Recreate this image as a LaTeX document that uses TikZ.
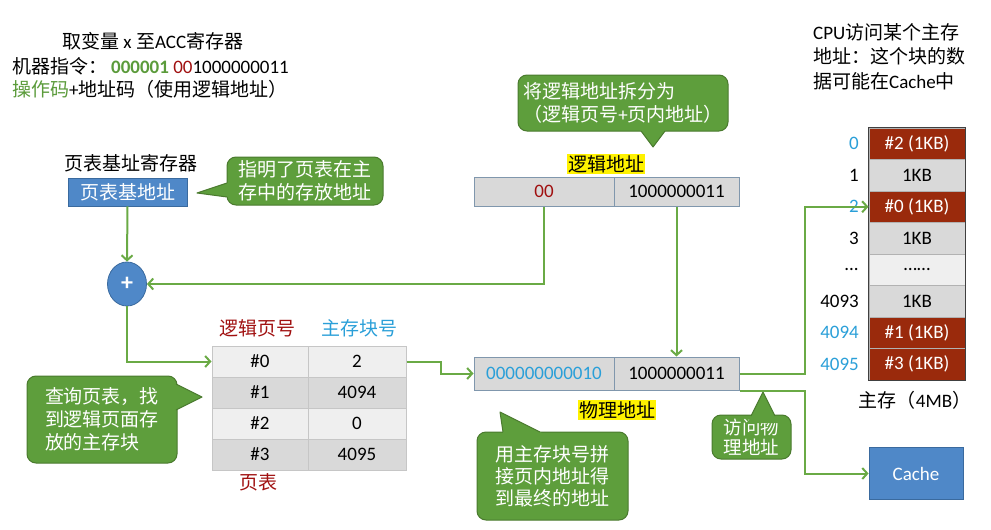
\documentclass[tikz,border=0pt]{standalone}
\usepackage{fontspec}
\setmainfont{Carlito}
\newfontfamily\zhfont{Noto Sans CJK SC}
\newfontfamily\latfont{Carlito}
\usetikzlibrary{arrows.meta,shapes.geometric,calc}
\makeatletter
\XeTeXinterchartokenstate=1
\newXeTeXintercharclass\zhclass
\def\setzhrange#1#2{\count@=#1\relax\loop\XeTeXcharclass\count@=\zhclass\ifnum\count@<#2\advance\count@ by 1\repeat}
\setzhrange{"3000}{"303F}
\setzhrange{"4E00}{"9FFF}
\setzhrange{"FF00}{"FFEF}
\XeTeXinterchartoks 0 \zhclass = {\zhfont}
\XeTeXinterchartoks 4095 \zhclass = {\zhfont}
\XeTeXinterchartoks \zhclass 0 = {\latfont}
\XeTeXinterchartoks \zhclass 4095 = {\latfont}
\makeatother
\definecolor{lgreen}{HTML}{6AAA45}
\definecolor{cfill}{HTML}{5E9E3C}
\definecolor{cborder}{HTML}{4A7A2E}
\definecolor{bbox}{HTML}{4F88C8}
\definecolor{bborder}{HTML}{3A6A9E}
\definecolor{dred}{HTML}{A01010}
\definecolor{tblue}{HTML}{2A9FD8}
\definecolor{mred}{HTML}{9A2A0C}
\definecolor{gcell}{HTML}{D9D9D9}
\definecolor{lcell}{HTML}{EFEFEF}
\definecolor{abord}{HTML}{8097AD}
\definecolor{tgreen}{HTML}{5B9B3B}
\newcommand\callptr[3]{%
  \fill[cfill] ($#1!1.3!#2$) -- #1 -- ($#1!1.3!#3$) -- cycle;
  \draw[cborder,line width=1pt,line join=round] #2 -- #1 -- #3;}
\tikzset{
  every node/.style={font=\fontsize{19}{23}\selectfont, inner sep=0pt},
  arr/.style={draw=lgreen, line width=2pt, -{Straight Barb[length=5pt,width=11pt]}},
  call/.style={fill=cfill, draw=cborder, line width=1pt, rounded corners=9pt, text=white, align=left},
  bluebox/.style={fill=bbox, draw=bborder, line width=0.8pt, text=white},
  abox/.style={fill=gcell, draw=abord, line width=1pt},
  cell/.style={draw=gray!45, line width=1pt, minimum height=31},
  mem/.style={draw=gray!60, line width=1pt, minimum width=96, minimum height=31.5},
  idx/.style={anchor=east},
  yhl/.style={fill=yellow, inner xsep=1pt, inner ysep=1pt}
}
\begin{document}
\begin{tikzpicture}[x=1pt,y=-1pt]
\useasboundingbox (0,0) rectangle (991,530);
% top-left text
\node[anchor=west] (t1) at (62,41) {取变量 x 至ACC寄存器};
\node[anchor=west] (t2) at (12,66) {机器指令：\hspace{4pt}{\color{tgreen}\bfseries 000001} {\color{dred}00}1000000011};
\node[anchor=west] (t3) at (12,89) {{\color{tgreen}操作码}+地址码（使用逻辑地址）};
% page table base register
\node[anchor=west] (baselbl) at (64,163) {页表基址寄存器};
\node[bluebox, minimum width=119, minimum height=28] (base) at (127.5,192) {页表基地址};
\node[call, minimum width=156, minimum height=48] (c1) at (305,181) {指明了页表在主\\存中的存放地址};
\callptr{(197,193)}{(227,183)}{(227,197)}
\node[ellipse, fill=bbox, draw=bborder, line width=0.8pt, minimum width=39, minimum height=44, text=white, font=\fontsize{24}{24}\selectfont\bfseries] (plus) at (127,284) {+};
% logical address
\node[yhl] (lalbl) at (606,164) {逻辑地址};
\node[abox, minimum width=140, minimum height=29, text=dred] (la1) at (544,191.5) {00};
\node[abox, minimum width=125, minimum height=29] (la2) at (676.5,191.5) {1000000011};
\node[call, minimum width=210, minimum height=56] (c2) at (623,103) {将逻辑地址拆分为\\（逻辑页号+页内地址）};
\callptr{(653,147)}{(641,131)}{(665,131)}
% page table
\node[text=dred] (h1) at (257,328) {逻辑页号};
\node[text=tblue] (h2) at (359,328) {主存块号};
\node[cell, fill=lcell, minimum width=96] (t00) at (260,361.5) {\#0};
\node[cell, fill=lcell, minimum width=98] (t01) at (357,361.5) {2};
\node[cell, fill=gcell, minimum width=96] (t10) at (260,392.5) {\#1};
\node[cell, fill=gcell, minimum width=98] (t11) at (357,392.5) {4094};
\node[cell, fill=lcell, minimum width=96] (t20) at (260,423.5) {\#2};
\node[cell, fill=lcell, minimum width=98] (t21) at (357,423.5) {0};
\node[cell, fill=gcell, minimum width=96] (t30) at (260,454.5) {\#3};
\node[cell, fill=gcell, minimum width=98] (t31) at (357,454.5) {4095};
\node[text=dred] (tbl) at (258,482) {页表};
\node[call, minimum width=150, minimum height=87] (c3) at (102,419.5) {查询页表，找\\到逻辑页面存\\放的主存块};
\callptr{(202,397)}{(176,384)}{(176,410)}
% physical address
\node[abox, minimum width=140, minimum height=33, text=tblue] (pa1) at (544,373.5) {000000000010};
\node[abox, minimum width=125, minimum height=33] (pa2) at (676.5,373.5) {1000000011};
\node[yhl] (palbl) at (617,410) {物理地址};
\node[call, minimum width=151, minimum height=88, font=\fontsize{19}{22}\selectfont] (c4) at (552.5,476) {用主存块号拼\\接页内地址得\\到最终的地址};
\callptr{(500,412)}{(503,432)}{(540,432)}
\node[call, minimum width=79, minimum height=44, font=\fontsize{18.5}{20}\selectfont] (c5) at (751.5,437) {访问物\\理地址};
\callptr{(763,392)}{(751,416)}{(775,416)}
% top right text
\node[anchor=north west, align=left, font=\fontsize{19}{24.5}\selectfont] (cpu) at (813,23) {CPU访问某个主存\\地址：这个块的数\\据可能在Cache中};
% main memory
\node[mem, fill=mred, text=white] (m0) at (917,143.75) {\#2 (1KB)};
\node[mem, fill=gcell] (m1) at (917,175.25) {1KB};
\node[mem, fill=mred, text=white] (m2) at (917,206.75) {\#0 (1KB)};
\node[mem, fill=gcell] (m3) at (917,238.25) {1KB};
\node[mem, fill=lcell] (m4) at (917,269.75) {……};
\node[mem, fill=gcell] (m5) at (917,301.25) {1KB};
\node[mem, fill=mred, text=white] (m6) at (917,332.75) {\#1 (1KB)};
\node[mem, fill=mred, text=white] (m7) at (917,364.25) {\#3 (1KB)};
\draw[black!75, line width=1pt] (m0.north west) rectangle (m7.south east);
\node[idx, text=tblue] (i0) at (859,143.75) {0};
\node[idx] (i1) at (859,175.25) {1};
\node[idx, text=tblue] (i2) at (859,206.75) {2};
\node[idx] (i3) at (859,238.25) {3};
\node[idx] (i4) at (859,269.75) {...};
\node[idx] (i5) at (859,301.25) {4093};
\node[idx, text=tblue] (i6) at (859,332.75) {4094};
\node[idx, text=tblue] (i7) at (859,364.25) {4095};
\node (mlbl) at (915,400) {主存（4MB）};
\node[bluebox, minimum width=94, minimum height=52] (cache) at (916,473.5) {Cache};
% connectors
\draw[arr] (base.south) -- (plus.north);
\draw[arr] (la1.south) |- (plus.east);
\draw[arr] (plus.south) |- (t00.west);
\draw[arr] (la2.south) -- (pa2.north);
\draw[arr] (t01.east) -- ++(34,0) |- (pa1.west);
\draw[arr] (pa2.east) -- ++(65,0) |- (m2.west);
\draw[arr] (pa2.south east) -- ++(65,0) |- (cache.west);
\end{tikzpicture}
\end{document}
